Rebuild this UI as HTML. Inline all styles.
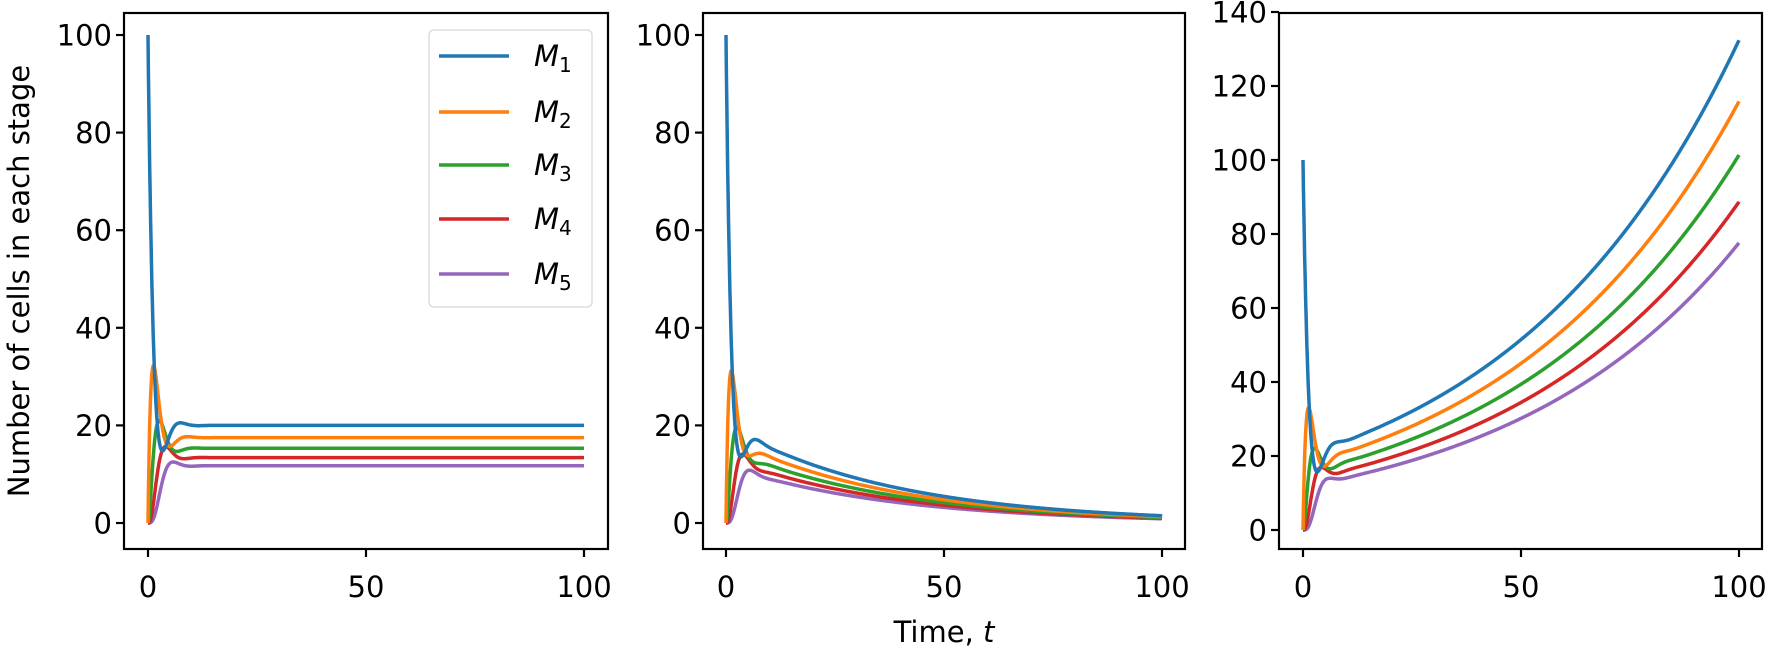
<!DOCTYPE html>
<html><head><meta charset="utf-8"><style>
html,body{margin:0;padding:0;background:#fff;}
svg{display:block;font-family:"DejaVu Sans","Liberation Sans",sans-serif;}
</style></head><body>
<svg id="s" width="1769" height="656" viewBox="0 0 1769 656" xmlns="http://www.w3.org/2000/svg">
<rect width="1769" height="656" fill="#fff"/>
<g id="curves"></g>
<g id="axes" fill="none" stroke="#000" stroke-width="2.2">
<rect x="124" y="13" width="484" height="536"/>
<rect x="703" y="13" width="482" height="536"/>
<rect x="1279" y="13" width="483" height="536"/>
</g>
<g id="ticks" stroke="#000" stroke-width="2.2"></g>
<g id="labels" font-size="29" fill="#000"></g>
<text x="0" y="0" font-size="29" text-anchor="middle" transform="translate(29,281) rotate(-90)">Number of cells in each stage</text>
<text x="944" y="642" font-size="29" text-anchor="middle">Time, <tspan font-style="italic">t</tspan></text>
<g id="legend">
<rect x="429" y="30" width="163" height="277" rx="5" fill="#fff" fill-opacity="0.8" stroke="#ddd" stroke-width="1.5"/>
</g>
</svg>
<script>
var cols=["#1f77b4","#ff7f0e","#2ca02c","#d62728","#9467bd"];
var NS="http://www.w3.org/2000/svg";
function el(p,tag,a,txt){var e=document.createElementNS(NS,tag);for(var k in a)e.setAttribute(k,a[k]);if(txt!==undefined)e.textContent=txt;p.appendChild(e);return e;}
var rho=0.8,r=0.875,dt=0.02,T=100;
var y=[100,0,0,0,0],sol=[];
function f(y){var d=[];for(var i=0;i<5;i++){var p=y[(i+4)%5];d.push(rho*p-rho*y[i]);}return d;}
for(var n=0;n<=T/dt;n++){
 if(n%5==0)sol.push([n*dt,y.slice()]);
 var k1=f(y),t2=y.map((v,i)=>v+dt/2*k1[i]),k2=f(t2),t3=y.map((v,i)=>v+dt/2*k2[i]),k3=f(t3),t4=y.map((v,i)=>v+dt*k3[i]),k4=f(t4);
 y=y.map((v,i)=>v+dt/6*(k1[i]+2*k2[i]+2*k3[i]+k4[i]));
}
var panels=[
 {x0:148,sx:4.36,y0:523,sy:4.88,g:0,yt:[0,20,40,60,80,100],left:124},
 {x0:726,sx:4.36,y0:523,sy:4.88,g:-0.026,yt:[0,20,40,60,80,100],left:703},
 {x0:1303,sx:4.36,y0:530,sy:3.7,g:0.0189,yt:[0,20,40,60,80,100,120,140],left:1279}
];
var cg=document.getElementById("curves"),tg=document.getElementById("ticks"),lg=document.getElementById("labels");
panels.forEach(function(P){
 for(var i=4;i>=0;i--){
  var pts=sol.map(function(s){var t=s[0];var v=s[1][i]*Math.pow(r,i)*Math.exp(P.g*t);return (P.x0+t*P.sx).toFixed(1)+","+(P.y0-v*P.sy).toFixed(1);}).join(" ");
  el(cg,"polyline",{points:pts,fill:"none",stroke:cols[i],"stroke-width":3.5,"stroke-linejoin":"round"});
 }
 P.yt.forEach(function(v){var yy=P.y0-v*P.sy;el(tg,"line",{x1:P.left-8,x2:P.left,y1:yy,y2:yy});
  el(lg,"text",{x:P.left-12,y:yy+10.5,"text-anchor":"end"},String(v));});
 [0,50,100].forEach(function(v){var xx=P.x0+v*P.sx;el(tg,"line",{x1:xx,x2:xx,y1:549,y2:557});
  el(lg,"text",{x:xx,y:597,"text-anchor":"middle"},String(v));});
});
var L=document.getElementById("legend");
[56,112,165,219,274].forEach(function(yy,i){
 el(L,"line",{x1:439,x2:509,y1:yy,y2:yy,stroke:cols[i],"stroke-width":3.5});
 var t=el(L,"text",{x:534,y:yy+10,"font-size":29,fill:"#000"});
 el(t,"tspan",{"font-style":"italic"},"M");
 el(t,"tspan",{dy:6,"font-size":20},String(i+1));
});
</script>
</body></html>
